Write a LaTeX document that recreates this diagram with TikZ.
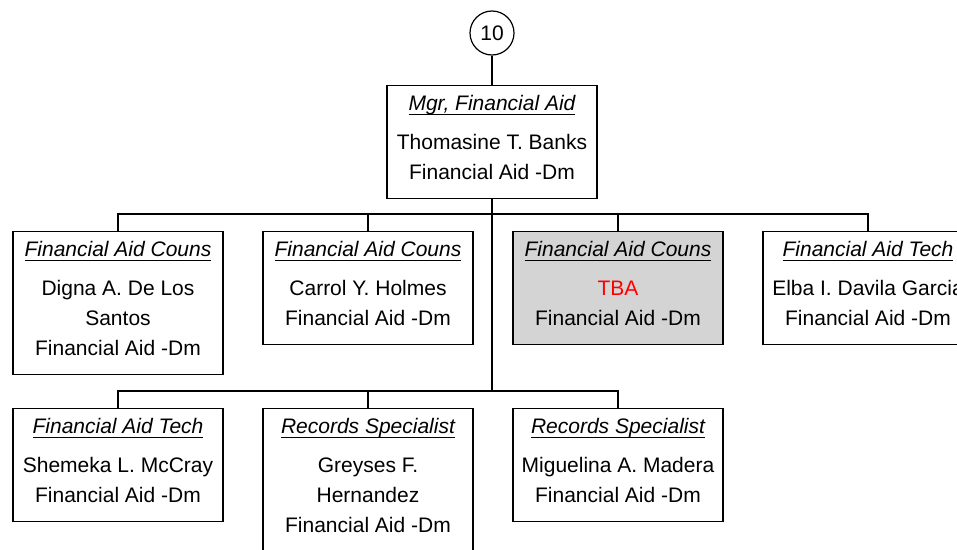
\documentclass[tikz,border=0pt]{standalone}
\usepackage{fontspec}
\setmainfont{Liberation Sans}
\usepackage{tikz}

\newsavebox{\ttlbox}
\newcommand{\jobtitle}[1]{\sbox{\ttlbox}{\itshape #1}\rule{0pt}{25pt}\rlap{\rule[-4.5pt]{\wd\ttlbox}{1.4pt}}\usebox{\ttlbox}}
\newcommand{\dept}{Financial Aid -Dm\rule[-19pt]{0pt}{19pt}}

\tikzset{
    posbox/.style={draw, line width=1.2pt, fill=white, minimum width=210pt, inner xsep=0pt, inner ysep=0pt,
        align=center, anchor=north, font=\fontsize{21}{30}\selectfont},
    vacant/.style={posbox, fill=black!17},
    link/.style={line width=1.2pt}
}

\begin{document}
\begin{tikzpicture}[x=1pt, y=1pt]
        \useasboundingbox (0,0) rectangle (957,-549);

        % Nodes
        \node[circle, draw, line width=1.2pt, minimum size=44pt, inner sep=0pt, font=\fontsize{21}{30}\selectfont] (num) at (492,-33) {10};
        \node[posbox] (mgr) at (492,-85) {\jobtitle{Mgr, Financial Aid}\\[9pt] Thomasine T. Banks\\ \dept};

        \node[posbox] (couns1) at (118,-231) {\jobtitle{Financial Aid Couns}\\[9pt] Digna A. De Los\\ Santos\\ \dept};
        \node[posbox] (couns2) at (368,-231) {\jobtitle{Financial Aid Couns}\\[9pt] Carrol Y. Holmes\\ \dept};
        \node[vacant] (couns3) at (618,-231) {\jobtitle{Financial Aid Couns}\\[9pt] \textcolor{red}{TBA}\\ \dept};
        \node[posbox] (tech1) at (868,-231) {\jobtitle{Financial Aid Tech}\\[9pt] Elba I. Davila Garcia\\ \dept};

        \node[posbox] (tech2) at (118,-408) {\jobtitle{Financial Aid Tech}\\[9pt] Shemeka L. McCray\\ \dept};
        \node[posbox] (rec1) at (368,-408) {\jobtitle{Records Specialist}\\[9pt] Greyses F.\\ Hernandez\\ \dept};
        \node[posbox] (rec2) at (618,-408) {\jobtitle{Records Specialist}\\[9pt] Miguelina A. Madera\\ \dept};

        \coordinate (busA) at (492,-214);
        \coordinate (busB) at (492,-391);

        % Lines
        \draw[link] (num) -- (mgr);
        \draw[link] (mgr) -- (busB);
        \draw[link] (busA) -| (couns1);
        \draw[link] (busA) -| (couns2);
        \draw[link] (busA) -| (couns3);
        \draw[link] (busA) -| (tech1);
        \draw[link] (busB) -| (tech2);
        \draw[link] (busB) -| (rec1);
        \draw[link] (busB) -| (rec2);
    \end{tikzpicture}
\end{document}
